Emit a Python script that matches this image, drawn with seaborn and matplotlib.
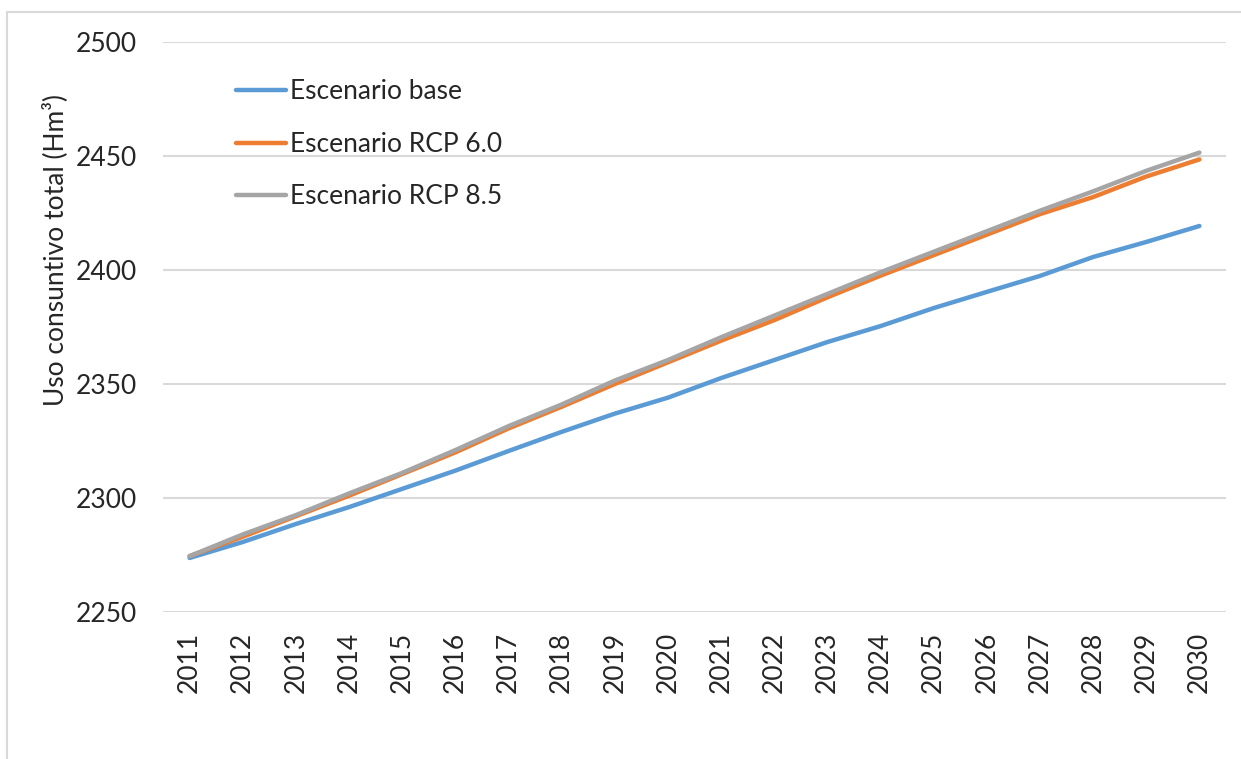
import matplotlib
matplotlib.use("Agg")
import matplotlib.pyplot as plt
from matplotlib.lines import Line2D
import pandas as pd
import seaborn as sns

years = list(range(2011, 2031))
escenario_base = [2273.7, 2280.7, 2288.6, 2296.0, 2304.0, 2312.0, 2320.6, 2329.0, 2337.0, 2344.0,
                  2352.6, 2360.5, 2368.4, 2375.4, 2383.3, 2390.4, 2397.4, 2405.7, 2412.3, 2419.3]
escenario_rcp60 = [2274.5, 2283.0, 2292.0, 2301.0, 2310.5, 2320.0, 2330.5, 2340.0, 2350.0, 2359.5,
                   2369.0, 2378.0, 2388.0, 2397.5, 2406.5, 2415.5, 2424.5, 2432.0, 2441.0, 2448.5]
escenario_rcp85 = [2274.5, 2284.0, 2292.5, 2302.0, 2311.0, 2321.0, 2331.5, 2341.0, 2351.5, 2360.5,
                   2370.5, 2380.0, 2389.5, 2399.0, 2408.0, 2417.0, 2426.0, 2434.5, 2443.5, 2451.5]
series_names = ["Escenario base", "Escenario RCP 6.0", "Escenario RCP 8.5"]
series_colors = ["#5B9BD5", "#ED7D31", "#A5A5A5"]
y_ticks = [2250, 2300, 2350, 2400, 2450, 2500]
y_label = "Uso consuntivo total (Hm³)"

sns.set_theme(style="white")
plt.rcParams["font.family"] = ["Lato", "DejaVu Sans"]

df = pd.DataFrame({
    "Año": years * 3,
    "Valor": escenario_base + escenario_rcp60 + escenario_rcp85,
    "Escenario": [n for n in series_names for _ in years],
})

fig = plt.figure(figsize=(12.41, 7.59), dpi=100)
ax = fig.add_axes([163 / 1241, 1 - 612 / 759, (1226 - 163) / 1241, (612 - 42) / 759])

sns.lineplot(data=df, x="Año", y="Valor", hue="Escenario", hue_order=series_names,
             palette=series_colors, linewidth=3.2, ax=ax, legend=False,
             solid_capstyle="round")

ax.set_xlim(years[0] - 0.5, years[-1] + 0.5)
ax.set_ylim(y_ticks[0], y_ticks[-1])
ax.set_xticks(years)
ax.set_xticklabels([str(y) for y in years], rotation=90, fontsize=19)
ax.set_yticks(y_ticks)
ax.set_yticklabels([str(v) for v in y_ticks], fontsize=19)
ax.tick_params(axis="x", pad=14, length=0)
ax.tick_params(axis="y", pad=19, length=0)
ax.set_xlabel("")
ax.set_ylabel(y_label, fontsize=19)
ax.yaxis.set_label_coords(-0.089, 0.635)

ax.grid(axis="y", color="#D9D9D9", linewidth=1.5)
ax.grid(axis="x", visible=False)
for s in ax.spines.values():
    s.set_visible(False)
ax.set_axisbelow(True)

handles = [Line2D([0], [0], color=c, linewidth=3.2, solid_capstyle="round") for c in series_colors]
ax.legend(handles, series_names, loc="upper left", bbox_to_anchor=(0.069, 0.935),
          frameon=False, fontsize=19, handlelength=1.9, handletextpad=0.12,
          labelspacing=1.05, borderpad=0, borderaxespad=0)

# light frame around the chart area
fig.add_artist(Line2D([7 / 1241, 7 / 1241], [0, 1 - 12 / 759], color="#D9D9D9", linewidth=1.5,
                      transform=fig.transFigure))
fig.add_artist(Line2D([7 / 1241, 1], [1 - 12 / 759, 1 - 12 / 759], color="#D9D9D9", linewidth=1.5,
                      transform=fig.transFigure))

fig.savefig("out.png", dpi=100, facecolor="white")
